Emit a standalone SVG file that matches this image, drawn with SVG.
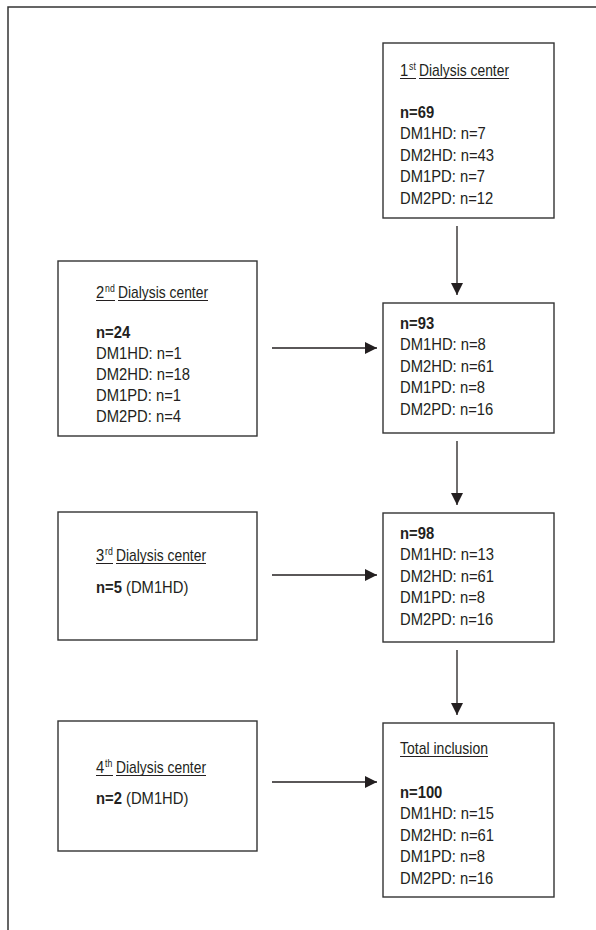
<svg xmlns="http://www.w3.org/2000/svg" width="596" height="930" viewBox="0 0 596 930">
<defs>
<style>
.frame{fill:none;stroke:#333;stroke-width:1.5}
.box{fill:#fff;stroke:#333;stroke-width:1.4}
.t{font-family:"Liberation Sans",Arial,sans-serif;font-size:17px;fill:#231f20}
.b{font-weight:bold}
.sup{font-size:10px}
.ul{stroke:#231f20;stroke-width:1}
.conn{stroke:#231f20;stroke-width:1.3;fill:none;marker-end:url(#ah)}
</style>
<marker id="ah" viewBox="0 0 12 12" refX="12" refY="6" markerWidth="12" markerHeight="12" markerUnits="userSpaceOnUse" orient="auto">
<path d="M0,0 L12,6 L0,12 Z" fill="#231f20"/>
</marker>
</defs>
<rect width="596" height="930" fill="#fff"/>
<path class="frame" d="M596,7 H8 V930"/>

<g id="connectors">
<line class="conn" x1="457" y1="226" x2="457" y2="295"/>
<line class="conn" x1="457" y1="441" x2="457" y2="505"/>
<line class="conn" x1="457" y1="650" x2="457" y2="715"/>
<line class="conn" x1="272" y1="348" x2="377" y2="348"/>
<line class="conn" x1="272" y1="575" x2="377" y2="575"/>
<line class="conn" x1="272" y1="782" x2="377" y2="782"/>
</g>

<g id="center1">
<rect class="box" x="383" y="43" width="171" height="175"/>
<text class="t" transform="translate(400,76) scale(0.87 1)">1<tspan class="sup" dy="-6" dx="1">st</tspan></text>
<text class="t" x="419" y="76" textLength="90" lengthAdjust="spacingAndGlyphs">Dialysis center</text>
<line class="ul" x1="400" y1="78.5" x2="416" y2="78.5"/>
<line class="ul" x1="419" y1="78.5" x2="509" y2="78.5"/>
<text class="t" transform="translate(400,118) scale(0.87 1)"><tspan class="b">n=69</tspan><tspan x="0" dy="21.5">DM1HD: n=7</tspan><tspan x="0" dy="21.5">DM2HD: n=43</tspan><tspan x="0" dy="21.5">DM1PD: n=7</tspan><tspan x="0" dy="21.5">DM2PD: n=12</tspan></text>
</g>

<g id="sum93">
<rect class="box" x="383" y="303" width="171" height="130"/>
<text class="t" transform="translate(400,329) scale(0.87 1)"><tspan class="b">n=93</tspan><tspan x="0" dy="21.5">DM1HD: n=8</tspan><tspan x="0" dy="21.5">DM2HD: n=61</tspan><tspan x="0" dy="21.5">DM1PD: n=8</tspan><tspan x="0" dy="21.5">DM2PD: n=16</tspan></text>
</g>

<g id="sum98">
<rect class="box" x="383" y="513" width="171" height="129"/>
<text class="t" transform="translate(400,539) scale(0.87 1)"><tspan class="b">n=98</tspan><tspan x="0" dy="21.5">DM1HD: n=13</tspan><tspan x="0" dy="21.5">DM2HD: n=61</tspan><tspan x="0" dy="21.5">DM1PD: n=8</tspan><tspan x="0" dy="21.5">DM2PD: n=16</tspan></text>
</g>

<g id="total">
<rect class="box" x="383" y="723" width="171" height="174"/>
<text class="t" x="400" y="754" textLength="88" lengthAdjust="spacingAndGlyphs">Total inclusion</text>
<line class="ul" x1="400" y1="756.5" x2="488" y2="756.5"/>
<text class="t" transform="translate(400,798) scale(0.87 1)"><tspan class="b">n=100</tspan><tspan x="0" dy="21.5">DM1HD: n=15</tspan><tspan x="0" dy="21.5">DM2HD: n=61</tspan><tspan x="0" dy="21.5">DM1PD: n=8</tspan><tspan x="0" dy="21.5">DM2PD: n=16</tspan></text>
</g>

<g id="center2">
<rect class="box" x="58" y="261" width="199" height="175"/>
<text class="t" transform="translate(96,298) scale(0.87 1)">2<tspan class="sup" dy="-6" dx="1">nd</tspan></text>
<text class="t" x="118" y="298" textLength="90" lengthAdjust="spacingAndGlyphs">Dialysis center</text>
<line class="ul" x1="96" y1="300.5" x2="115" y2="300.5"/>
<line class="ul" x1="118" y1="300.5" x2="208" y2="300.5"/>
<text class="t" transform="translate(96,338) scale(0.87 1)"><tspan class="b">n=24</tspan><tspan x="0" dy="21">DM1HD: n=1</tspan><tspan x="0" dy="21">DM2HD: n=18</tspan><tspan x="0" dy="21">DM1PD: n=1</tspan><tspan x="0" dy="21">DM2PD: n=4</tspan></text>
</g>

<g id="center3">
<rect class="box" x="58" y="512" width="199" height="128"/>
<text class="t" transform="translate(96,561) scale(0.87 1)">3<tspan class="sup" dy="-6" dx="1">rd</tspan></text>
<text class="t" x="116" y="561" textLength="90" lengthAdjust="spacingAndGlyphs">Dialysis center</text>
<line class="ul" x1="96" y1="563.5" x2="113" y2="563.5"/>
<line class="ul" x1="116" y1="563.5" x2="206" y2="563.5"/>
<text class="t" transform="translate(96,593) scale(0.87 1)"><tspan class="b">n=5</tspan> (DM1HD)</text>
</g>

<g id="center4">
<rect class="box" x="58" y="721" width="199" height="130"/>
<text class="t" transform="translate(96,773) scale(0.87 1)">4<tspan class="sup" dy="-6" dx="1">th</tspan></text>
<text class="t" x="116" y="773" textLength="90" lengthAdjust="spacingAndGlyphs">Dialysis center</text>
<line class="ul" x1="96" y1="775.5" x2="113" y2="775.5"/>
<line class="ul" x1="116" y1="775.5" x2="206" y2="775.5"/>
<text class="t" transform="translate(96,804) scale(0.87 1)"><tspan class="b">n=2</tspan> (DM1HD)</text>
</g>
</svg>
